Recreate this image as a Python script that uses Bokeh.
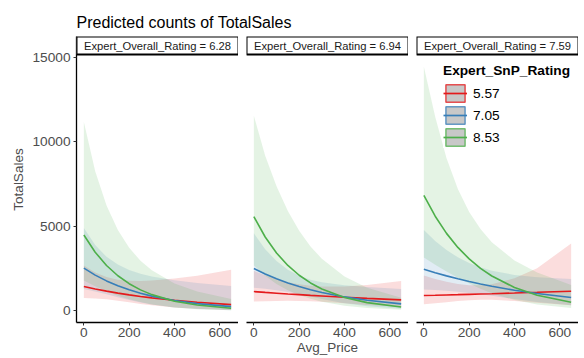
from bokeh.plotting import figure
from bokeh.layouts import row, column
from bokeh.models import BoxAnnotation, Label, Legend, LegendItem, FixedTicker, Range1d
from bokeh.embed import file_html
from bokeh.resources import INLINE

# ---------------- data ----------------
price = [0, 50, 100, 150, 200, 250, 300, 400, 500, 650]
overall_levels = ["6.28", "6.94", "7.59"]
snp_levels = ["5.57", "7.05", "8.53"]
x_ticks = [0, 200, 400, 600]
y_ticks = [0, 5000, 10000, 15000]

# Expert_Overall_Rating = 6.28
fit_628_557 = [1440, 1298, 1170, 1055, 951, 857, 773, 628, 510, 374]
lo_628_557 = [770, 742, 684, 603, 509, 416, 333, 206, 125, 58]
hi_628_557 = [2693, 2272, 2001, 1846, 1778, 1765, 1793, 1915, 2086, 2431]
fit_628_705 = [2530, 2120, 1777, 1489, 1248, 1046, 876, 616, 432, 255]
lo_628_705 = [1304, 1152, 987, 809, 643, 498, 378, 210, 113, 44]
hi_628_705 = [4908, 3901, 3199, 2740, 2421, 2197, 2032, 1811, 1655, 1482]
fit_628_853 = [4490, 3474, 2689, 2080, 1610, 1246, 964, 577, 346, 160]
lo_628_853 = [1803, 1460, 1159, 904, 694, 524, 387, 205, 105, 36]
hi_628_853 = [11180, 8268, 6238, 4784, 3735, 2965, 2400, 1621, 1142, 702]

# Expert_Overall_Rating = 6.94
fit_694_557 = [1145, 1096, 1050, 1005, 963, 922, 883, 809, 742, 652]
lo_694_557 = [553, 571, 587, 595, 587, 569, 538, 452, 358, 240]
hi_694_557 = [2370, 2104, 1880, 1698, 1579, 1494, 1448, 1448, 1536, 1773]
fit_694_705 = [2510, 2185, 1903, 1657, 1443, 1256, 1094, 829, 629, 415]
lo_694_705 = [1372, 1308, 1228, 1127, 1002, 854, 706, 453, 281, 133]
hi_694_705 = [4593, 3649, 2950, 2436, 2078, 1846, 1696, 1517, 1409, 1299]
fit_694_853 = [5575, 4373, 3429, 2690, 2110, 1655, 1298, 798, 491, 237]
lo_694_853 = [2693, 2082, 1595, 1223, 938, 720, 545, 313, 175, 72]
hi_694_853 = [11540, 9183, 7372, 5918, 4748, 3807, 3089, 2035, 1375, 782]

# Expert_Overall_Rating = 7.59
fit_759_557 = [910, 927, 945, 963, 982, 1001, 1020, 1060, 1101, 1165]
lo_759_557 = [396, 454, 519, 584, 634, 663, 658, 582, 479, 341]
hi_759_557 = [2093, 1891, 1720, 1589, 1522, 1512, 1581, 1929, 2532, 3984]
fit_759_705 = [2470, 2263, 2073, 1899, 1739, 1593, 1459, 1224, 1027, 790]
lo_759_705 = [1273, 1237, 1191, 1137, 1067, 983, 895, 703, 529, 329]
hi_759_705 = [4792, 4141, 3607, 3171, 2835, 2581, 2378, 2130, 1992, 1896]
fit_759_853 = [6840, 5602, 4588, 3758, 3078, 2521, 2065, 1385, 929, 510]
lo_759_853 = [3167, 2733, 2329, 1957, 1620, 1313, 1048, 644, 379, 170]
hi_759_853 = [14450, 11484, 9038, 7215, 5848, 4840, 4068, 2978, 2276, 1530]

panels = [
    [(fit_628_557, lo_628_557, hi_628_557), (fit_628_705, lo_628_705, hi_628_705), (fit_628_853, lo_628_853, hi_628_853)],
    [(fit_694_557, lo_694_557, hi_694_557), (fit_694_705, lo_694_705, hi_694_705), (fit_694_853, lo_694_853, hi_694_853)],
    [(fit_759_557, lo_759_557, hi_759_557), (fit_759_705, lo_759_705, hi_759_705), (fit_759_853, lo_759_853, hi_759_853)],
]

colors = ["#E41A1C", "#377EB8", "#4DAF4A"]
FONT = "Liberation Sans"
TITLE = "Predicted counts of TotalSales"

# ---------------- scales (ggplot-like 5% expansion) ----------------
x_span = max(price) - min(price)
X_LO, X_HI = min(price) - 0.05 * x_span, max(price) + 0.05 * x_span
all_lo = min(min(s[1]) for pan in panels for s in pan)
all_hi = max(max(s[2]) for pan in panels for s in pan)
y_span = all_hi - all_lo
Y_LO, Y_HI = all_lo - 0.05 * y_span, all_hi + 0.05 * y_span

FRAME_W = 162
DATA_PX = 268
STRIP_PX = 18
LEFT_W = 76
GAP = 8
Y_TOP = Y_HI + (Y_HI - Y_LO) * STRIP_PX / DATA_PX

figs = []
for i, lvl in enumerate(overall_levels):
    p = figure(
        frame_width=FRAME_W, frame_height=DATA_PX + STRIP_PX,
        x_range=Range1d(X_LO, X_HI), y_range=Range1d(Y_LO, Y_TOP),
        output_backend="svg", toolbar_location=None,
        min_border_left=LEFT_W if i == 0 else GAP, min_border_right=0,
        min_border_top=2, min_border_bottom=36,
        y_axis_location="left" if i == 0 else None,
        background_fill_color="white", border_fill_color="white",
        outline_line_color=None,
    )
    p.grid.visible = False

    for (fit, lo, hi), c in zip(panels[i], colors):
        p.varea(x=price, y1=lo, y2=hi, fill_color=c, fill_alpha=0.15)
    for (fit, lo, hi), c in zip(panels[i], colors):
        p.line(x=price, y=fit, line_color=c, line_width=1.6)

    ax = p.xaxis[0]
    ax.ticker = FixedTicker(ticks=x_ticks)
    ax.axis_line_color = "black"
    ax.axis_line_width = 1.3
    ax.major_tick_line_color = "#333333"
    ax.major_tick_in = 0
    ax.major_tick_out = 3
    ax.minor_tick_line_color = None
    ax.major_label_text_font = FONT
    ax.major_label_text_font_size = "13.7px"
    ax.major_label_text_color = "#4d4d4d"
    ax.major_label_standoff = 2
    if i == 1:
        ax.axis_label = "Avg_Price"
        ax.axis_label_text_font = FONT
        ax.axis_label_text_font_size = "13.5px"
        ax.axis_label_text_font_style = "normal"
        ax.axis_label_text_color = "#4d4d4d"
        ax.axis_label_standoff = 0

    if i == 0:
        ay = p.yaxis[0]
        ay.ticker = FixedTicker(ticks=y_ticks)
        ay.axis_line_color = "black"
        ay.axis_line_width = 1.3
        ay.major_tick_line_color = "#333333"
        ay.major_tick_in = 0
        ay.major_tick_out = 3
        ay.minor_tick_line_color = None
        ay.major_label_text_font = FONT
        ay.major_label_text_font_size = "13.7px"
        ay.major_label_text_color = "#4d4d4d"
        ay.major_label_standoff = 3
        ay.axis_label = "TotalSales"
        ay.axis_label_text_font = FONT
        ay.axis_label_text_font_size = "13.5px"
        ay.axis_label_text_font_style = "normal"
        ay.axis_label_text_color = "#4d4d4d"
        ay.axis_label_standoff = 3

    # facet strip
    p.add_layout(BoxAnnotation(bottom=Y_HI, fill_color="white", fill_alpha=1.0,
                               line_color="black", line_width=2, line_alpha=1.0))
    p.add_layout(Label(x=(X_LO + X_HI) / 2, y=Y_HI, y_offset=STRIP_PX / 2,
                       text="Expert_Overall_Rating = " + lvl,
                       text_align="center", text_baseline="middle",
                       text_font=FONT, text_font_size="11.2px", text_color="#1a1a1a"))
    figs.append(p)

# legend in the third panel (keys: grey box with coloured border and line)
p3 = figs[2]
nan = float("nan")
items = []
for c, lvl in zip(colors, snp_levels):
    rq = p3.quad(left=[nan], right=[nan], top=[nan], bottom=[nan], fill_color="#c8c8c8",
                 line_color=c, line_alpha=0.75, line_width=1.5)
    rl = p3.line(x=[nan], y=[nan], line_color=c, line_width=1.7)
    items.append(LegendItem(label=lvl, renderers=[rq, rl]))
legend = Legend(items=items, location="top_left", title="Expert_SnP_Rating",
                title_text_font=FONT, title_text_font_size="13.7px",
                title_text_font_style="bold", title_text_color="black",
                title_standoff=4,
                label_text_font=FONT, label_text_font_size="13.7px",
                label_text_color="black", label_standoff=6,
                glyph_width=24, glyph_height=22, label_height=22, spacing=0,
                padding=12, margin=27,
                background_fill_color="white", background_fill_alpha=1.0,
                border_line_color=None)
p3.add_layout(legend)

# title strip above the panels
total_w = LEFT_W + 3 * FRAME_W + 2 * GAP
pt = figure(width=total_w, height=34, x_range=Range1d(0, 1), y_range=Range1d(0, 1),
            output_backend="svg", toolbar_location=None,
            x_axis_location=None, y_axis_location=None,
            min_border_left=0, min_border_right=0, min_border_top=0, min_border_bottom=0,
            outline_line_color=None, background_fill_color="white", border_fill_color="white")
pt.grid.visible = False
pt.add_layout(Label(x=LEFT_W, y=12, x_units="screen", y_units="screen", text=TITLE,
                    text_align="left", text_baseline="alphabetic",
                    text_font=FONT, text_font_size="16px", text_color="black"))

layout = column(pt, row(*figs))
open("out.html", "w").write(file_html(layout, INLINE))
